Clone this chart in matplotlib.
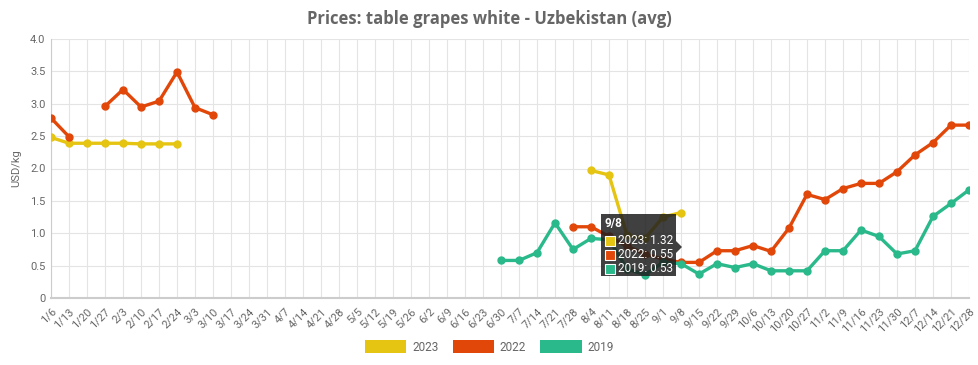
import matplotlib
matplotlib.use("Agg")
import matplotlib.pyplot as plt
import numpy as np
from matplotlib.patches import Rectangle, Polygon, Patch

plt.rcParams['font.family'] = ['Roboto', 'DejaVu Sans']

weeks = ["1/6","1/13","1/20","1/27","2/3","2/10","2/17","2/24","3/3","3/10","3/17","3/24","3/31",
         "4/7","4/14","4/21","4/28","5/5","5/12","5/19","5/26","6/2","6/9","6/16","6/23","6/30",
         "7/7","7/14","7/21","7/28","8/4","8/11","8/18","8/25","9/1","9/8","9/15","9/22","9/29",
         "10/6","10/13","10/20","10/27","11/2","11/9","11/16","11/23","11/30","12/7","12/14",
         "12/21","12/28"]
N = None
s2023 = [2.48, 2.39, 2.39, 2.39, 2.39, 2.38, 2.38, 2.38] + [N]*22 + \
        [1.97, 1.90, 0.97, 0.92, 1.25, 1.32] + [N]*16
s2022 = [2.78, 2.49, N, 2.96, 3.22, 2.95, 3.04, 3.49, 2.94, 2.83] + [N]*19 + \
        [1.10, 1.10, 0.95, 0.80, 0.68, 0.60, 0.55, 0.55, 0.73, 0.73, 0.81, 0.72, 1.08, 1.60,
         1.52, 1.69, 1.77, 1.77, 1.95, 2.21, 2.40, 2.67, 2.67]
s2019 = [N]*25 + [0.58, 0.58, 0.70, 1.16, 0.75, 0.92, 0.90, 0.45, 0.36, 0.55, 0.53, 0.37,
                  0.53, 0.47, 0.53, 0.42, 0.42, 0.42, 0.73, 0.73, 1.05, 0.95, 0.68, 0.73,
                  1.26, 1.46, 1.67]
series = [("2023", s2023, "#E5C412"), ("2022", s2022, "#E2470A"), ("2019", s2019, "#29B98A")]

W, H = 979, 365
fig = plt.figure(figsize=(W/100, H/100), dpi=100)
ax = fig.add_axes([51/W, 1-298/H, (969-51)/W, (298-39)/H])

x = np.arange(len(weeks))
for name, vals, col in series:
    y = np.array([np.nan if v is None else v for v in vals], dtype=float)
    ax.plot(x, y, color=col, lw=2.4, marker='o', ms=5, zorder=3, solid_capstyle='round')

ax.set_xlim(0, len(weeks)-1)
ax.set_ylim(0, 4.0)
ax.set_yticks(np.arange(0, 4.01, 0.5))
ax.set_yticklabels(["0"] + [f"{v:.1f}" for v in np.arange(0.5, 4.01, 0.5)])
ax.set_xticks(x)
ax.set_xticklabels(weeks, rotation=45, ha='right', rotation_mode='anchor')
ax.tick_params(axis='both', labelsize=8, colors='#666666', length=0, pad=4)
ax.tick_params(axis='x', pad=6)
ax.grid(True, color='#e4e4e4', lw=0.8)
ax.set_axisbelow(True)
for s in ['top', 'right']:
    ax.spines[s].set_visible(False)
ax.spines['left'].set_color('#cccccc')
ax.spines['bottom'].set_color('#cccccc')
ax.spines['bottom'].set_linewidth(1.5)
ax.set_ylabel("USD/kg", fontsize=8, color='#666666', labelpad=6)

fig.text(0.5, 1-19/H, "Prices: table grapes white - Uzbekistan (avg)", ha='center', va='center',
         fontsize=12, fontweight='bold', color='#666666', family=['Open Sans', 'DejaVu Sans'])

# tooltip
def px2data(px, py):
    disp = fig.transFigure.transform((px/W, 1-py/H))
    return ax.transData.inverted().transform(disp)

x0, y0 = px2data(601, 276)
x1, y1 = px2data(676, 214)
ax.add_patch(Rectangle((x0, y0), x1-x0, y1-y0, color='#1e1e1e', alpha=0.85, zorder=10, lw=0))
pa = px2data(676, 241); pb = px2data(682, 247); pc = px2data(676, 253)
ax.add_patch(Polygon([pa, pb, pc], closed=True, color='#1e1e1e', alpha=0.85, zorder=10, lw=0))
fig.text(605/W, 1-224/H, "9/8", fontsize=8.5, fontweight='bold', color='white', va='center', ha='left', zorder=11)
rows = [("2023: 1.32", "#E5C412"), ("2022: 0.55", "#E2470A"), ("2019: 0.53", "#29B98A")]
for i, (t, c) in enumerate(rows):
    yy = 241 + i*14
    fig.patches.append(Rectangle((605/W, 1-(yy+5)/H), 10/W, 10/H, transform=fig.transFigure,
                                 facecolor=c, edgecolor='white', lw=0.8, zorder=11))
    fig.text(618/W, 1-yy/H, t, fontsize=8.5, color='white', va='center', ha='left', zorder=11)

handles = [Patch(facecolor=c, edgecolor='none', label=n) for n, _, c in series]
fig.legend(handles=handles, loc='center', bbox_to_anchor=(0.5, 1-347/H), ncol=3, frameon=False,
           fontsize=8.5, labelcolor='#666666', handlelength=3.5, handleheight=1.3,
           columnspacing=1.2, handletextpad=0.5)

fig.savefig("out.png", dpi=100)
